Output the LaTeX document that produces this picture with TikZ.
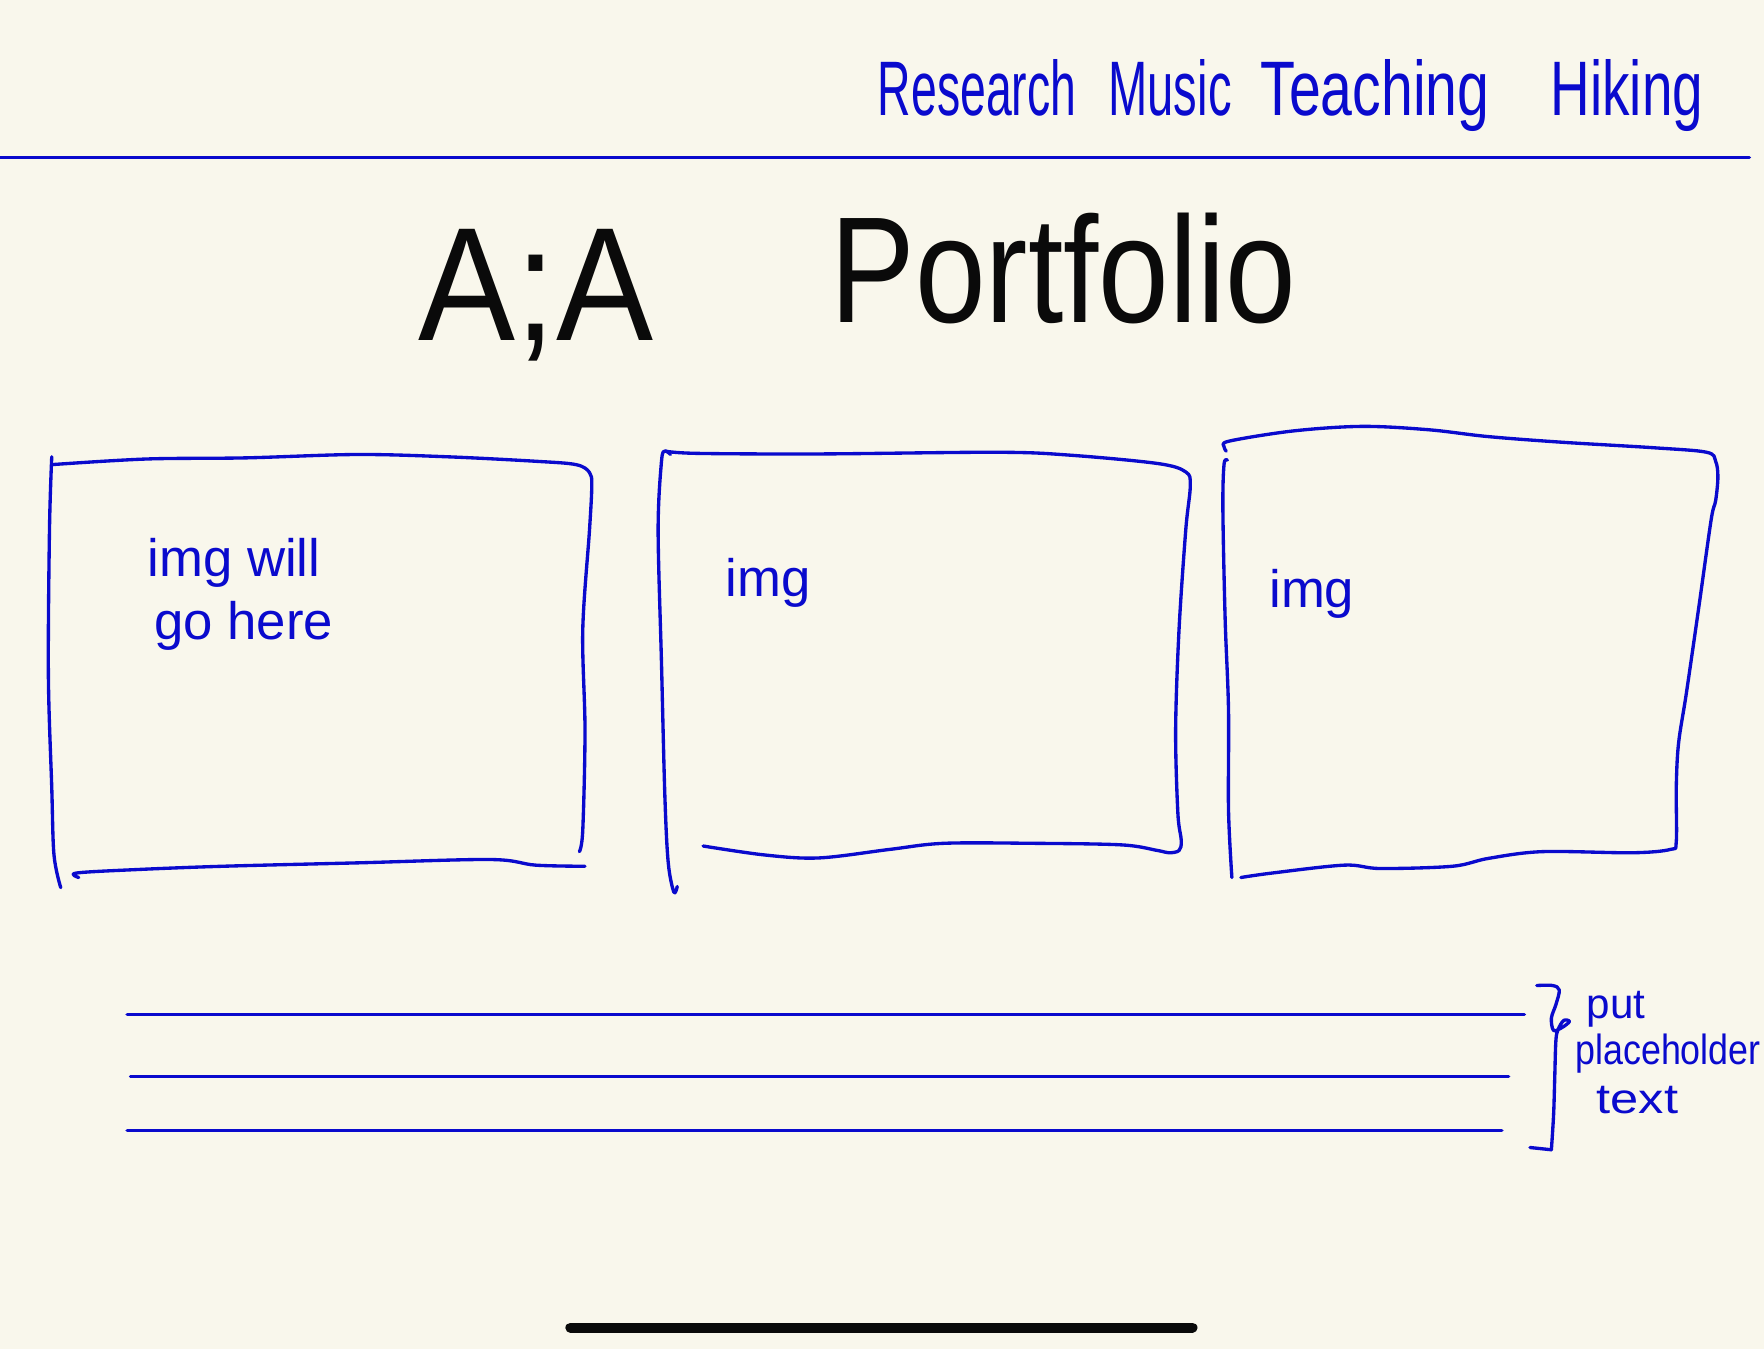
\documentclass[tikz,border=0pt]{standalone}
\usepackage{fontspec}
\setmainfont{Liberation Sans}
\definecolor{paper}{RGB}{249,247,236}
\definecolor{pen}{RGB}{10,10,205}
\definecolor{ink}{RGB}{10,10,10}
\begin{document}
\begin{tikzpicture}[x=0.0225cm,y=-0.0225cm,
  pen/.style={draw=pen,line width=1.9pt,line cap=round,line join=round},
  sketch/.style={pen,smooth,tension=0.55},
  navtext/.style={text=pen,font=\fontsize{44}{48}\selectfont,anchor=base west,inner sep=0pt},
  titletext/.style={text=ink,anchor=base west,inner sep=0pt},
  boxtext/.style={text=pen,font=\fontsize{30}{33}\selectfont,anchor=base west,inner sep=0pt},
  notetext/.style={text=pen,font=\fontsize{24}{26}\selectfont,anchor=base west,inner sep=0pt}]
\fill[paper] (0,0) rectangle (1568,1199);
\useasboundingbox (0,0) rectangle (1568,1199);

% navigation
\node[navtext] (navR) at (780,103) {\scalebox{0.6}[1]{Research}};
\node[navtext] (navM) at (985,103) {\scalebox{0.61}[1]{Music}};
\node[navtext] (navT) at (1120,103) {\scalebox{0.74}[1]{Teaching}};
\node[navtext] (navH) at (1378,103) {\scalebox{0.71}[1]{Hiking}};
\coordinate (ruleL) at (0,140);
\coordinate (ruleR) at (1555,140);
\draw[pen] (ruleL) -- (ruleR);

% title
\node[titletext,font=\fontsize{92}{96}\selectfont] (titleA) at (372,303) {\scalebox{0.9}[1]{A;A}};
\node[titletext,font=\fontsize{86}{90}\selectfont] (titleP) at (738,287) {\scalebox{0.84}[1]{Portfolio}};

% box 1
\draw[sketch] plot coordinates {(46,406) (44,470) (43,600) (46,700) (48,760) (54,789)};
\draw[sketch] plot coordinates {(46,413) (130,408) (218,407) (317,404) (397,406) (476,410) (512,413) (524,420) (526,432) (524,471) (518,560) (520,649) (518,738) (515,757)};
\draw[sketch] plot coordinates {(70,780) (68,776) (120,773) (198,770) (317,767) (436,764) (476,769) (520,770)};
\node[boxtext] (t1a) at (131,512) {img will};
\node[boxtext] (t1b) at (137,568) {go here};

% box 2
\draw[sketch] plot coordinates {(596,404) (591,401) (588,410) (585,471) (588,590) (591,708) (594,767) (599,793) (602,788)};
\draw[sketch] plot coordinates {(591,401) (620,403) (728,403.5) (886,402) (950,404.5) (1029,412) (1054,419.5) (1058,432) (1054,471) (1048,560) (1045,649) (1047,723) (1050,747) (1048,756) (1039,758) (1029,756) (997,751) (918,749.6) (839,749.6) (791,755) (728,762.6) (680,760) (625,752)};
\node[boxtext] (t2) at (645,530) {img};

% box 3
\draw[sketch] plot coordinates {(1091,409) (1088,413) (1087,453) (1089,550) (1092,631) (1092,720) (1095,780)};
\draw[sketch] plot coordinates {(1090,401) (1088,397) (1093,392) (1150,383) (1211,379) (1270,382) (1322,388) (1387,393) (1470,398) (1517,402) (1525,410) (1527,424) (1525,445) (1521,462) (1510,540) (1499,616) (1492,661) (1490,700) (1490,748) (1485,755) (1451,758) (1371,757) (1323,763) (1291,770) (1227,772) (1195,769) (1131,776) (1103,780)};
\node[boxtext] (t3) at (1128,540) {img};

% placeholder lines
\coordinate (l1a) at (113,902); \coordinate (l1b) at (1355,902);
\coordinate (l2a) at (116,957); \coordinate (l2b) at (1341,957);
\coordinate (l3a) at (113,1005); \coordinate (l3b) at (1335,1005);
\draw[pen] (l1a) -- (l1b);
\draw[pen] (l2a) -- (l2b);
\draw[pen] (l3a) -- (l3b);

% brace and note
\draw[sketch] plot coordinates {(1366,876) (1380,876) (1386,880) (1383,893) (1379,905) (1381,916) (1389,913) (1395,908) (1390,907) (1385,915) (1383,925) (1382,957) (1381,990) (1379,1022)};
\coordinate (braceB) at (1379,1022);
\coordinate (braceF) at (1360,1020);
\draw[pen] (braceB) -- (braceF);
\node[notetext] (n1) at (1410,905) {put};
\node[notetext] (n2) at (1400,946) {\scalebox{0.85}[1]{placeholder}};
\node[notetext] (n3) at (1419,990) {\scalebox{1.2}[1]{text}};

% home indicator
\coordinate (barL) at (507,1180);
\coordinate (barR) at (1060,1180);
\draw[ink,line width=5.7pt,line cap=round] (barL) -- (barR);
\end{tikzpicture}
\end{document}
